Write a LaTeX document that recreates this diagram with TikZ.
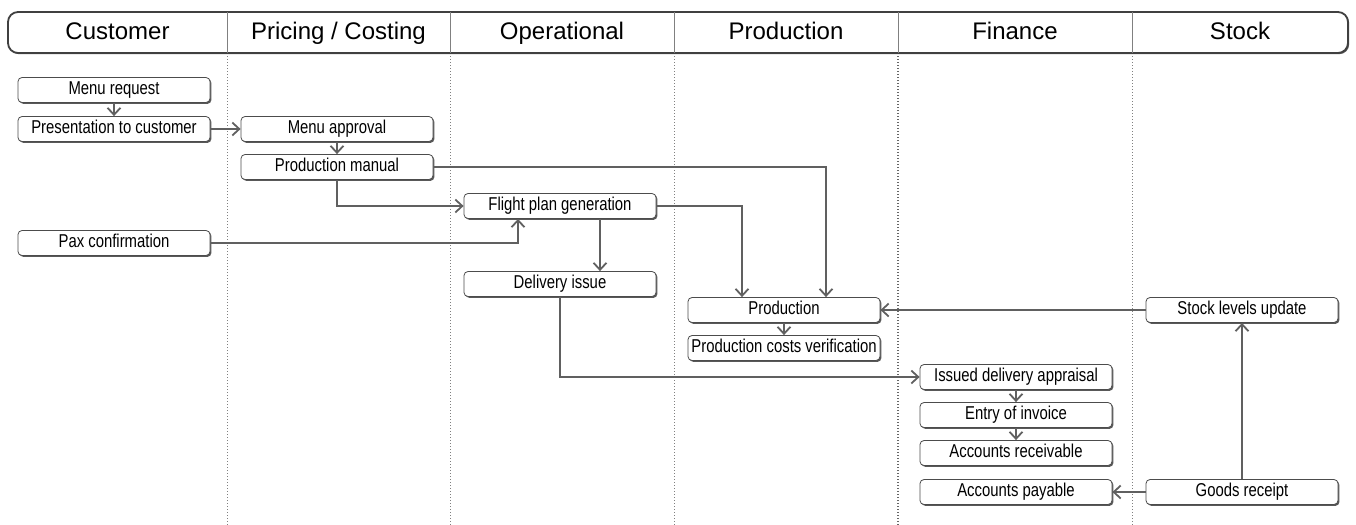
\documentclass[tikz,border=0pt]{standalone}
\usepackage{fontspec}
\setmainfont{Liberation Sans}
\newfontfamily\stepfont[FakeStretch=0.8]{Liberation Sans}
\usetikzlibrary{calc,arrows.meta,shadows}

\begin{document}
\begin{tikzpicture}[x=0.5pt,y=-0.5pt,>={Straight Barb[length=3.5pt,width=6.5pt]}]
      % Styles
      \tikzset{lanehead/.style={anchor=base,font=\fontsize{12}{14}\selectfont},
               stepbox/.style={draw=gray!60!black,fill=white,rounded corners=2pt,
                               minimum width=96pt,minimum height=12.5pt,inner sep=0pt,
                               text height=6.8pt,text depth=1.9pt,
                               font=\stepfont\fontsize{9.3}{11}\selectfont,
                               drop shadow={shadow xshift=0.7pt,shadow yshift=-0.7pt,
                                            opacity=1,fill=gray!70!black}},
               flow/.style={->,draw=gray!75!black,line width=0.9pt},
               lane/.style={gray,line width=0.5pt,dash pattern=on 0.5pt off 1pt}}
      \useasboundingbox (0,0) rectangle (1356,525);

      % header band
      \draw[draw=gray!50!black,line width=0.9pt,fill=white,rounded corners=5pt,
            drop shadow={shadow xshift=0.6pt,shadow yshift=-0.6pt,opacity=1,fill=gray!70!black}]
            (8,12) rectangle (1348,53);
      \foreach \x in {227,450,674,898,1132}{%
        \draw[gray,line width=0.5pt] (\x,12) -- (\x,53);
      }
      \foreach \x/\name in {117.5/{Customer},338.5/{Pricing / Costing},562/{Operational},
                            786/{Production},1015/{Finance},1240/{Stock}}{%
        \node[lanehead] at (\x,39) {\name};
      }

      % lane separators
      \foreach \x in {227,450,674,1132}{%
        \draw[lane] (\x,56) -- (\x,525);
      }
      \draw[lane,line width=1pt,gray!80!black] (898,56) -- (898,525);

      % steps
      \node[stepbox] (menureq)  at (114,90)  {Menu request};
      \node[stepbox] (present)  at (114,129) {Presentation to customer};
      \node[stepbox] (approval) at (337,129) {Menu approval};
      \node[stepbox] (manual)   at (337,167) {Production manual};
      \node[stepbox] (flight)   at (560,206) {Flight plan generation};
      \node[stepbox] (pax)      at (114,243) {Pax confirmation};
      \node[stepbox] (delivery) at (560,284) {Delivery issue};
      \node[stepbox] (prod)     at (784,310) {Production};
      \node[stepbox] (costs)    at (784,348) {Production costs verification};
      \node[stepbox] (stock)    at (1242,310) {Stock levels update};
      \node[stepbox] (appraise) at (1016,377) {Issued delivery appraisal};
      \node[stepbox] (invoice)  at (1016,415) {Entry of invoice};
      \node[stepbox] (receive)  at (1016,453) {Accounts receivable};
      \node[stepbox] (payable)  at (1016,492) {Accounts payable};
      \node[stepbox] (goods)    at (1242,492) {Goods receipt};

      % flows
      \draw[flow] (menureq) -- (present);
      \draw[flow] (present) -- (approval);
      \draw[flow] (approval) -- (manual);
      \draw[flow] (manual.south) |- (flight.west);
      \draw[flow] (manual.east) -| ($(prod.north)+(42,0)$);
      \draw[flow] (pax.east) -| ($(flight.south)+(-42,0)$);
      \draw[flow] ($(flight.south)+(40,0)$) -- ($(delivery.north)+(40,0)$);
      \draw[flow] (flight.east) -| ($(prod.north)+(-42,0)$);
      \draw[flow] (delivery.south) |- (appraise.west);
      \draw[flow] (prod) -- (costs);
      \draw[flow] (stock) -- (prod);
      \draw[flow] (appraise) -- (invoice);
      \draw[flow] (invoice) -- (receive);
      \draw[flow] (goods) -- (payable);
      \draw[flow] (goods) -- (stock);
\end{tikzpicture}
\end{document}
